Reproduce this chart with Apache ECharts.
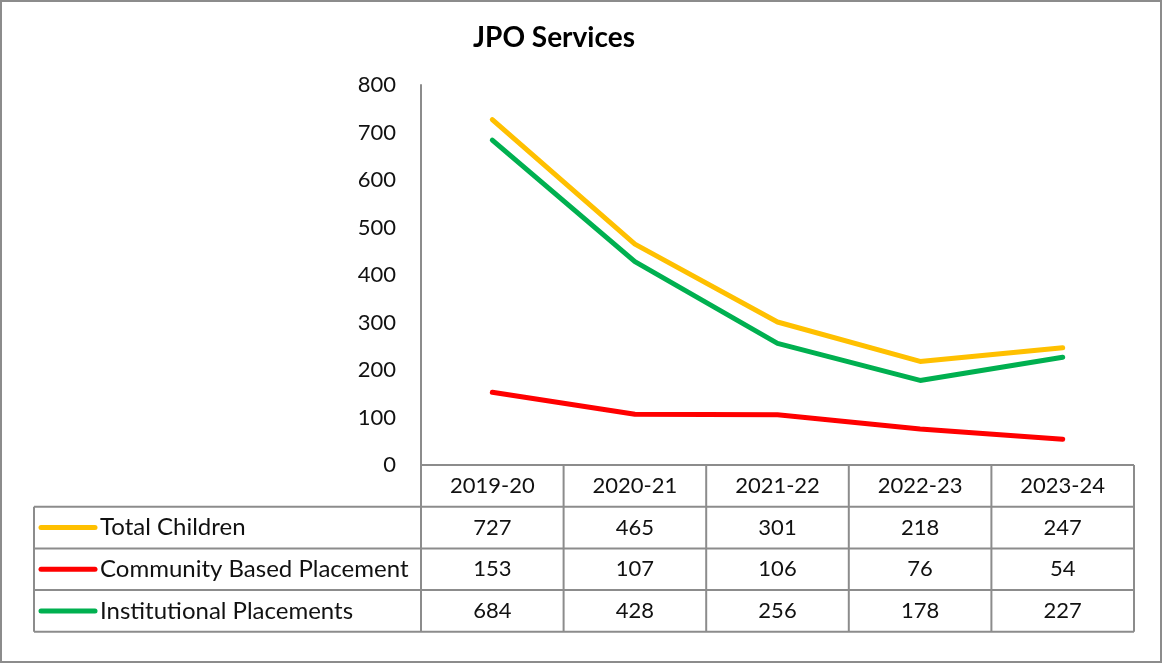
<!DOCTYPE html>
<html>
<head>
<meta charset="utf-8">
<script src="https://cdn.jsdelivr.net/npm/echarts@6/dist/echarts.min.js"></script>
<style>
  html, body { margin: 0; padding: 0; background: #fff; }
  #chart { width: 1163px; height: 665px; }
</style>
</head>
<body>
<div id="chart"></div>
<script>
// 数据
const years = ['2019-20', '2020-21', '2021-22', '2022-23', '2023-24']
const totalChildren = [727, 465, 301, 218, 247]
const communityBased = [153, 107, 106, 76, 54]
const institutional = [684, 428, 256, 178, 227]
const seriesNames = ['Total Children', 'Community Based Placement', 'Institutional Placements']
const seriesColors = ['#FFC000', '#FF0000', '#00B050']

const font = 'Lato, "Open Sans", sans-serif'
const W = 1163, H = 665
// 绘图区
const gridLeft = 421, gridRight = 1134, gridTop = 85, gridBottom = 465
const rowH = 41.7
const legendLeft = 34
const borderColor = '#8c8c8c'
const textColor = '#111'

const chart = echarts.init(document.getElementById('chart'))

/** 数据表（网格线 + 文字） */
function buildTable() {
  const els = []
  const colW = (gridRight - gridLeft) / years.length
  const rows = [totalChildren, communityBased, institutional]
  const tableBottom = gridBottom + rowH * 4
  const line = (x1, y1, x2, y2) => ({
    type: 'line', silent: true,
    shape: { x1, y1, x2, y2 },
    style: { stroke: borderColor, lineWidth: 2 }
  })
  // 竖线
  for (let i = 0; i <= years.length; i++) {
    const x = gridLeft + colW * i
    els.push(line(x, gridBottom, x, tableBottom))
  }
  els.push(line(legendLeft, gridBottom + rowH, legendLeft, tableBottom))
  // 横线
  els.push(line(gridLeft, gridBottom, gridRight, gridBottom))
  for (let r = 1; r <= 4; r++) {
    const y = gridBottom + rowH * r
    els.push(line(legendLeft, y, gridRight, y))
  }
  // 表头
  years.forEach((y, i) => {
    els.push({
      type: 'text', silent: true,
      style: {
        x: gridLeft + colW * (i + 0.5), y: gridBottom + rowH * 0.5,
        text: y, align: 'center', verticalAlign: 'middle',
        font: '22px ' + font, fill: textColor
      }
    })
  })
  // 数据行
  rows.forEach((vals, r) => {
    const cy = gridBottom + rowH * (r + 1.5)
    els.push({
      type: 'line', silent: true,
      shape: { x1: legendLeft + 7, y1: cy, x2: legendLeft + 61, y2: cy },
      style: { stroke: seriesColors[r], lineWidth: 5, lineCap: 'round' }
    })
    els.push({
      type: 'text', silent: true,
      style: {
        x: legendLeft + 66, y: cy, text: seriesNames[r],
        align: 'left', verticalAlign: 'middle',
        font: '24px ' + font, fill: textColor
      }
    })
    vals.forEach((v, i) => {
      els.push({
        type: 'text', silent: true,
        style: {
          x: gridLeft + colW * (i + 0.5), y: cy, text: String(v),
          align: 'center', verticalAlign: 'middle',
          font: '22px ' + font, fill: textColor
        }
      })
    })
  })
  // 外框
  els.push({
    type: 'rect', silent: true,
    shape: { x: 1, y: 1, width: W - 3, height: H - 4 },
    style: { fill: 'none', stroke: borderColor, lineWidth: 2 }
  })
  return els
}

chart.setOption({
  animation: false,
  backgroundColor: '#fff',
  title: {
    text: 'JPO Services',
    left: 549, top: 19, textAlign: 'center',
    textStyle: { fontFamily: font, fontSize: 28, fontWeight: 'bold', color: '#000' }
  },
  grid: { left: gridLeft, right: W - gridRight, top: gridTop, bottom: H - gridBottom },
  xAxis: {
    type: 'category', data: years, boundaryGap: true,
    axisLine: { show: false }, axisTick: { show: false }, axisLabel: { show: false }
  },
  yAxis: {
    type: 'value', min: 0, max: 800, interval: 100,
    axisLine: { show: true, lineStyle: { color: borderColor, width: 2 } },
    axisTick: { show: false },
    splitLine: { show: false },
    axisLabel: { margin: 25, fontFamily: font, fontSize: 22, color: textColor }
  },
  series: [totalChildren, communityBased, institutional].map((d, i) => ({
    name: seriesNames[i], type: 'line', data: d,
    symbol: 'none',
    lineStyle: { color: seriesColors[i], width: 5, cap: 'round' },
    itemStyle: { color: seriesColors[i] }
  })),
  graphic: buildTable()
})
</script>
</body>
</html>
